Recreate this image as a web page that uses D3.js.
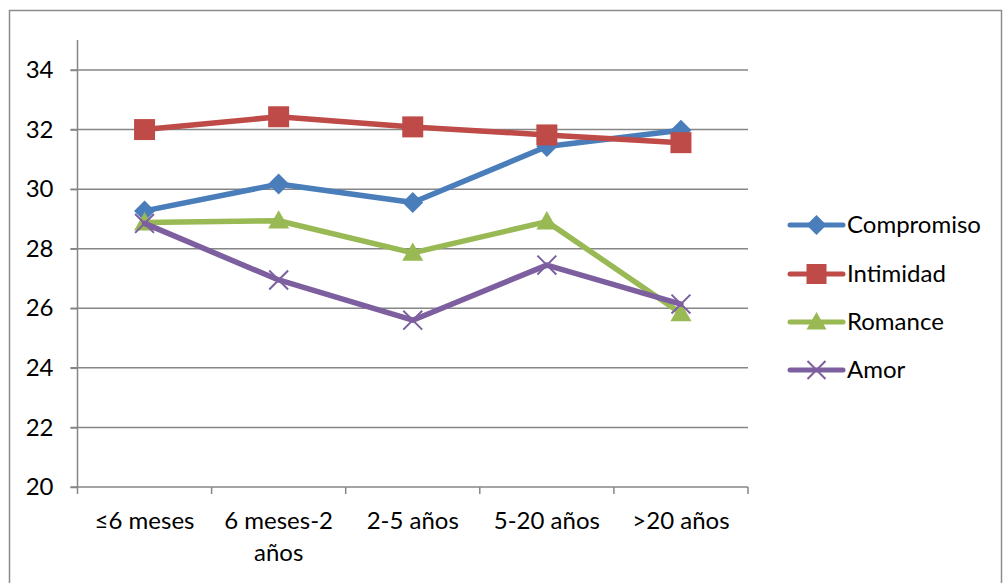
<!DOCTYPE html>
<html><head><meta charset="utf-8">
<script src="https://cdn.jsdelivr.net/npm/d3@7"></script>
<style>body{margin:0;background:#fff}svg{display:block}</style>
</head><body>
<svg id="c" width="1003" height="583"></svg>
<script>
const categories = ["≤6 meses", "6 meses-2 años", "2-5 años", "5-20 años", ">20 años"];
const categoryLines = [["≤6 meses"], ["6 meses-2", "años"], ["2-5 años"], ["5-20 años"], [">20 años"]];
const seriesNames = ["Compromiso", "Intimidad", "Romance", "Amor"];
const compromiso = [29.27, 30.17, 29.55, 31.43, 31.98];
const intimidad = [32.0, 32.43, 32.09, 31.82, 31.56];
const romance = [28.88, 28.94, 27.86, 28.91, 25.83];
const amor = [28.85, 26.95, 25.6, 27.45, 26.14];
const yTicks = [20, 22, 24, 26, 28, 30, 32, 34];
const colors = ["#4a7ebb", "#be4b48", "#98b954", "#7d5fa0"];
const markers = ["diamond", "square", "triangle", "x"];
const seriesValues = [compromiso, intimidad, romance, amor];

(function () {
const svg = d3.select("#c");
const font = "Lato, 'Open Sans', sans-serif";
const fs = 24;
svg.append("rect").attr("x", 9.5).attr("y", 10.5).attr("width", 992).attr("height", 600)
  .attr("fill", "none").attr("stroke", "#8c8c8c").attr("stroke-width", 1.5);

const pLeft = 77.5, pRight = 748, pTop = 40, pBottom = 487;
const x = d3.scaleBand().domain(categories).range([pLeft, pRight]);
const y = d3.scaleLinear().domain([20, 34]).range([pBottom, 70]);

// gridlines
svg.append("g").selectAll("line").data(yTicks.filter(t => t > 20)).join("line")
  .attr("x1", pLeft - 7).attr("x2", pRight).attr("y1", d => y(d)).attr("y2", d => y(d))
  .attr("stroke", "#868686").attr("stroke-width", 1.5);

// y axis
const ya = svg.append("g").attr("transform", `translate(${pLeft},0)`)
  .call(d3.axisLeft(y).tickValues(yTicks).tickSize(7).tickPadding(8).tickFormat(d3.format("d")));
ya.select(".domain").remove();
ya.append("line").attr("x1", 0).attr("x2", 0).attr("y1", pTop).attr("y2", pBottom)
  .attr("stroke", "#868686").attr("stroke-width", 1.5);
ya.selectAll(".tick line").attr("stroke", "#868686").attr("stroke-width", 1.5);
ya.selectAll(".tick text").attr("font-family", font).attr("font-size", fs).attr("fill", "#000")
  .attr("dx", -9);

// x axis
const xa = svg.append("g").attr("transform", `translate(0,${pBottom})`);
xa.append("line").attr("x1", pLeft - 7).attr("x2", pRight).attr("y1", 0).attr("y2", 0)
  .attr("stroke", "#868686").attr("stroke-width", 1.5);
const bounds = categories.map(c => x(c)).concat([pRight]);
xa.selectAll("line.tk").data(bounds).join("line").attr("class", "tk")
  .attr("x1", d => d).attr("x2", d => d).attr("y1", 0).attr("y2", 7)
  .attr("stroke", "#868686").attr("stroke-width", 1.5);
categories.forEach((c, i) => {
  const t = xa.append("text").attr("x", x(c) + x.bandwidth() / 2).attr("y", 42)
    .attr("text-anchor", "middle").attr("font-family", font).attr("font-size", fs).attr("fill", "#000");
  categoryLines[i].forEach((ln, j) => t.append("tspan").attr("x", x(c) + x.bandwidth() / 2).attr("dy", j ? 32 : 0).text(ln));
});

const cx = c => x(c) + x.bandwidth() / 2;
function drawMarker(g, type, px, py, color, s) {
  if (type === "diamond") {
    g.append("path").attr("d", `M${px},${py - s}L${px + s},${py}L${px},${py + s}L${px - s},${py}Z`).attr("fill", color);
  } else if (type === "square") {
    g.append("rect").attr("x", px - s).attr("y", py - s).attr("width", s * 2).attr("height", s * 2).attr("fill", color);
  } else if (type === "triangle") {
    g.append("path").attr("d", `M${px},${py - s}L${px + s},${py + s * 0.75}L${px - s},${py + s * 0.75}Z`).attr("fill", color);
  } else {
    const k = s * 0.9;
    g.append("path").attr("d", `M${px - k},${py - k}L${px + k},${py + k}M${px - k},${py + k}L${px + k},${py - k}`)
      .attr("stroke", color).attr("stroke-width", 2).attr("fill", "none");
  }
}

const line = d3.line().x((d, i) => cx(categories[i])).y(d => y(d));
seriesValues.forEach((vals, si) => {
  const g = svg.append("g");
  g.append("path").attr("d", line(vals)).attr("fill", "none").attr("stroke", colors[si])
    .attr("stroke-width", 5.5).attr("stroke-linejoin", "round").attr("stroke-linecap", "round");
  vals.forEach((v, i) => drawMarker(g, markers[si], cx(categories[i]), y(v), colors[si], 10.5));
});

// legend
const legY = [225, 274, 322, 370];
seriesNames.forEach((n, i) => {
  const g = svg.append("g");
  g.append("line").attr("x1", 790).attr("x2", 843).attr("y1", legY[i]).attr("y2", legY[i])
    .attr("stroke", colors[i]).attr("stroke-width", 5).attr("stroke-linecap", "round");
  drawMarker(g, markers[i], 816.5, legY[i], colors[i], 10);
  g.append("text").attr("x", 847).attr("y", legY[i] + 8).attr("font-family", font).attr("font-size", fs)
    .attr("fill", "#000").text(n);
});
})();
</script>
</body></html>
